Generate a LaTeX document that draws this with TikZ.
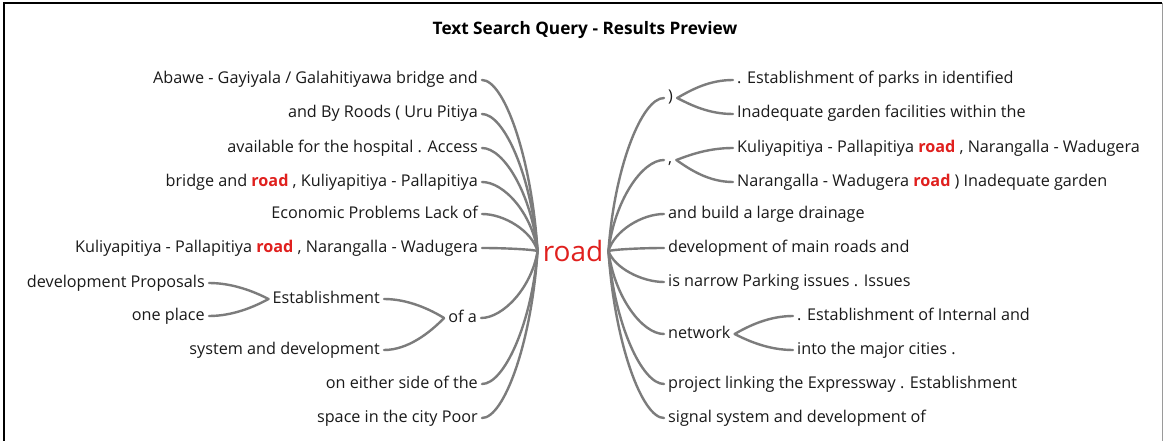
\documentclass[tikz,border=0pt]{standalone}
\usepackage{fontspec}
\setmainfont{Open Sans}
\usetikzlibrary{calc}
\definecolor{txt}{HTML}{1A1A1A}
\definecolor{lnk}{HTML}{7C7C7C}
\definecolor{hl}{HTML}{E0201E}
\definecolor{frameR}{HTML}{9A9A9A}
\newcommand\hlroad{\textcolor{hl}{\textbf{road}}}
\tikzset{
  t/.style={font=\fontsize{16.2}{19}\selectfont, text=txt, inner xsep=4pt, inner ysep=0pt, text height=12pt, text depth=4pt},
  L/.style={t, anchor=east},
  R/.style={t, anchor=west},
  conn/.style={draw=lnk, line width=2.4pt, line cap=round},
}
% left leaf -> centre
\newcommand\lconn[2]{\draw[conn] let \p1=(#1.east), \p2=(#2.west) in (\p1) .. controls (\x1+22pt,\y1) and (\x2-6pt,{\y2+0.55*(\y1-\y2)}) .. (\p2);}
% centre -> right leaf
\newcommand\rconn[2]{\draw[conn] let \p1=(#1.east), \p2=(#2.west) in (\p1) .. controls (\x1+6pt,{\y1+0.55*(\y2-\y1)}) and (\x2-22pt,\y2) .. (\p2);}
% left bracket: child -> parent
\newcommand\lbr[2]{\draw[conn] let \p1=(#1.east), \p2=(#2.west) in (\p1) .. controls (\x1+24pt,\y1) and (\x2-14pt,{\y2+0.45*(\y1-\y2)}) .. (\p2);}
% right bracket: parent -> child
\newcommand\rbr[2]{\draw[conn] let \p1=(#1.east), \p2=(#2.west) in (\p1) .. controls (\x1+14pt,{\y1+0.45*(\y2-\y1)}) and (\x2-24pt,\y2) .. (\p2);}
\begin{document}
\begin{tikzpicture}[x=1pt,y=-1pt]
\useasboundingbox (0,0) rectangle (1164,441);
\fill[white] (0,0) rectangle (1164,441);
\draw[black, line width=1.6pt] (4,441) -- (4,3) -- (1162,3);
\draw[frameR, line width=1pt] (1162,3) -- (1162,441);

\node[font=\bfseries\fontsize{17.2}{20}\selectfont, text=black] (title) at (585,30) {Text Search Query - Results Preview};

\node[font=\fontsize{28}{32}\selectfont, text=hl, inner xsep=5pt, inner ysep=0pt] (road) at (573,251) {road};

% left side
\node[L] (a1) at (482,80) {Abawe - Gayiyala / Galahitiyawa bridge and};
\node[L] (a2) at (482,114) {and By Roods ( Uru Pitiya};
\node[L] (a3) at (482,148) {available for the hospital . Access};
\node[L] (a4) at (482,182) {bridge and \hlroad{} , Kuliyapitiya - Pallapitiya};
\node[L] (a5) at (482,214) {Economic Problems Lack of};
\node[L] (a6) at (482,248) {Kuliyapitiya - Pallapitiya \hlroad{} , Narangalla - Wadugera};
\node[L] (ofa) at (481,318) {of a};
\node[L] (est) at (384,299) {Establishment};
\node[L] (sys) at (384,350) {system and development};
\node[L] (dp) at (209,283) {development Proposals};
\node[L] (op) at (209,316) {one place};
\node[L] (a8) at (482,384) {on either side of the};
\node[L] (a9) at (482,418) {space in the city Poor};

% right side
\node[R] (b1) at (664,98) {)};
\node[R] (c1) at (733,80) {. Establishment of parks in identified};
\node[R] (c2) at (733,114) {Inadequate garden facilities within the};
\node[R] (b2) at (664,160) {,};
\node[R] (c3) at (733,148) {Kuliyapitiya - Pallapitiya \hlroad{} , Narangalla - Wadugera};
\node[R] (c4) at (733,182) {Narangalla - Wadugera \hlroad{} ) Inadequate garden};
\node[R] (b3) at (664,214) {and build a large drainage};
\node[R] (b4) at (664,248) {development of main roads and};
\node[R] (b5) at (664,282) {is narrow Parking issues . Issues};
\node[R] (net) at (664,334) {network};
\node[R] (d1) at (793,316) {. Establishment of Internal and};
\node[R] (d2) at (793,350) {into the major cities .};
\node[R] (b7) at (664,384) {project linking the Expressway . Establishment};
\node[R] (b8) at (664,418) {signal system and development of};

% connectors left
\foreach \nd in {a1,a2,a3,a4,a5,a6,ofa,a8,a9} {\lconn{\nd}{road}}
\lbr{est}{ofa}
\lbr{sys}{ofa}
\lbr{dp}{est}
\lbr{op}{est}

% connectors right
\foreach \nd in {b1,b2,b3,b4,b5,net,b7,b8} {\rconn{road}{\nd}}
\rbr{b1}{c1}
\rbr{b1}{c2}
\rbr{b2}{c3}
\rbr{b2}{c4}
\rbr{net}{d1}
\rbr{net}{d2}
\end{tikzpicture}
\end{document}
